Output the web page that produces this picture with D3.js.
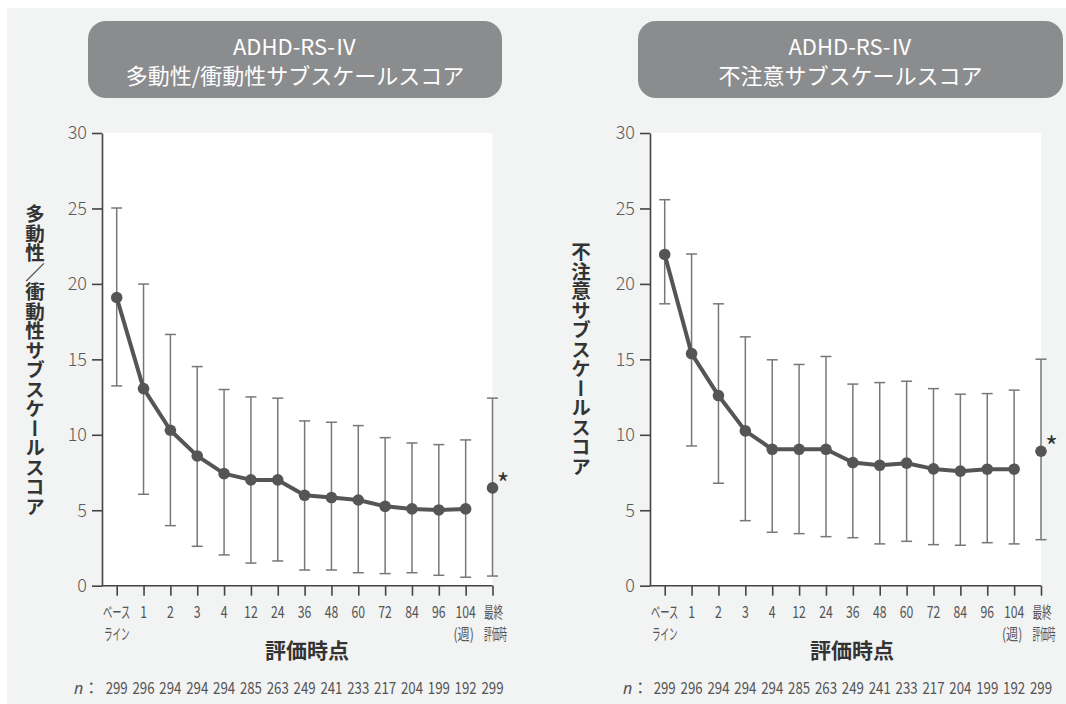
<!DOCTYPE html>
<html>
<head>
<meta charset="utf-8">
<script src="https://cdn.jsdelivr.net/npm/d3@7"></script>
<style>
  html, body { margin: 0; padding: 0; background: #ffffff; }
  svg { display: block; }
  text { font-family: "Noto Sans CJK JP", "Noto Sans", sans-serif; }
</style>
</head>
<body>
<svg id="chart" width="1066" height="704"></svg>
<script>
// Assessment time points (weeks)
const timepoints = ["ベースライン", "1", "2", "3", "4", "12", "24", "36", "48", "60", "72", "84", "96", "104", "最終評価時"];
const nValues = [299, 296, 294, 294, 294, 285, 263, 249, 241, 233, 217, 204, 199, 192, 299];
const yTicks = [0, 5, 10, 15, 20, 25, 30];

// Hyperactivity/impulsivity subscale: mean and ±SD
const hyperMean  = [19.1, 13.06, 10.3, 8.6, 7.43, 7.01, 7.01, 5.99, 5.84, 5.68, 5.26, 5.09, 5.02, 5.09, 6.48];
const hyperUpper = [25.03, 19.99, 16.65, 14.52, 13.0, 12.51, 12.43, 10.92, 10.83, 10.61, 9.81, 9.46, 9.35, 9.66, 12.43];
const hyperLower = [13.24, 6.06, 3.98, 2.61, 2.04, 1.5, 1.64, 1.04, 1.04, 0.86, 0.8, 0.86, 0.69, 0.56, 0.64];

// Inattention subscale: mean and ±SD
const inattMean  = [21.95, 15.38, 12.6, 10.26, 9.04, 9.04, 9.04, 8.16, 7.98, 8.12, 7.74, 7.59, 7.72, 7.72, 8.91];
const inattUpper = [25.58, 21.98, 18.68, 16.49, 14.97, 14.66, 15.19, 13.36, 13.46, 13.55, 13.06, 12.69, 12.73, 12.96, 15.01];
const inattLower = [18.68, 9.26, 6.79, 4.31, 3.54, 3.45, 3.25, 3.18, 2.77, 2.94, 2.72, 2.68, 2.85, 2.77, 3.05];

const svg = d3.select("#chart");

// light grey page panel
svg.append("rect").attr("x", 7).attr("y", 8).attr("width", 1066 - 7).attr("height", 704 - 8).attr("fill", "#f2f3f3");

const AXIS = "#444";
const TEXT = "#555";

// multi-row tick labels: [text, dx, font-size, horizontal squeeze]
const labelRows = {
  "ベースライン": [["ベース", 0, 16, 0.58], ["ライン", 0, 15.5, 0.55]],
  "104": [["104", 0, 17, 0.72], ["(週)", -2, 15.5, 0.78]],
  "最終評価時": [["最終", 1, 16, 0.6], ["評価時", 3, 15.5, 0.5]]
};

function drawPanel(cfg) {
  const g = svg.append("g");

  // title box
  g.append("rect")
    .attr("x", cfg.box[0]).attr("y", 21)
    .attr("width", cfg.box[1] - cfg.box[0]).attr("height", 77)
    .attr("rx", 18).attr("ry", 18)
    .attr("fill", "#8b8c8e");
  const bx = (cfg.box[0] + cfg.box[1]) / 2;
  g.append("text").attr("x", bx).attr("y", 55)
    .attr("text-anchor", "middle").attr("fill", "#fff")
    .attr("font-size", 22).text("ADHD-RS-Ⅳ");
  g.append("text").attr("x", bx).attr("y", 84)
    .attr("text-anchor", "middle").attr("fill", "#fff")
    .attr("font-size", 22).text(cfg.title);

  const x = d3.scalePoint().domain(timepoints).range([cfg.x0 + 14.7, cfg.x1]);
  const y = d3.scaleLinear().domain([0, 30]).range([585.7, 133]);

  // white plotting area
  g.append("rect")
    .attr("x", cfg.x0).attr("y", y(30))
    .attr("width", cfg.x1 - cfg.x0).attr("height", y(0) - y(30))
    .attr("fill", "#fff");

  // y axis
  const ya = g.append("g").attr("transform", `translate(${cfg.x0},0)`)
    .call(d3.axisLeft(y).tickValues(yTicks).tickSize(10).tickPadding(5).tickSizeOuter(0));
  ya.select(".domain").attr("stroke", AXIS).attr("stroke-width", 1.6);
  ya.selectAll(".tick line").attr("stroke", AXIS).attr("stroke-width", 1.6);
  ya.selectAll(".tick text").attr("fill", "#5a5a5a").attr("font-size", 18)
    .attr("font-family", "'Noto Sans', sans-serif").attr("font-weight", 300);

  // x axis
  const xa = g.append("g").attr("transform", `translate(0,${y(0)})`)
    .call(d3.axisBottom(x).tickSize(10).tickSizeOuter(0).tickFormat(""));
  xa.select(".domain").attr("stroke", AXIS).attr("stroke-width", 1.6)
    .attr("d", `M${cfg.x0},0H${cfg.x1}`);
  xa.selectAll(".tick line").attr("stroke", AXIS).attr("stroke-width", 1.6);

  // x tick labels (condensed)
  timepoints.forEach(t => {
    const rows = labelRows[t] || [[t, 0, 17, 0.72]];
    rows.forEach((r, i) => {
      g.append("text")
        .attr("transform", `translate(${x(t) + r[1]},${618 + i * 22}) scale(${r[3]},1)`)
        .attr("text-anchor", "middle").attr("fill", TEXT)
        .attr("font-size", r[2]).text(r[0]);
    });
  });

  // x axis title
  g.append("text").attr("x", cfg.xTitle).attr("y", 658)
    .attr("text-anchor", "middle").attr("fill", "#333")
    .attr("font-size", 21).attr("font-weight", 700).text("評価時点");

  // y axis title (vertical)
  g.append("text").attr("x", cfg.yTitleX).attr("y", cfg.yTitleY)
    .attr("text-anchor", "middle").attr("fill", "#333")
    .attr("font-size", 19.5).attr("font-weight", 700)
    .style("writing-mode", "vertical-rl")
    .text(cfg.yTitle);

  // n row
  g.append("text").attr("x", cfg.nX).attr("y", 694)
    .attr("fill", TEXT).attr("font-size", 16)
    .call(t => {
      t.append("tspan").attr("font-style", "italic").attr("font-family", "'Noto Sans', sans-serif").text("n");
      t.append("tspan").text("：");
    });
  timepoints.forEach((t, i) => {
    g.append("text")
      .attr("transform", `translate(${x(t)},694) scale(0.78,1)`)
      .attr("text-anchor", "middle").attr("fill", TEXT)
      .attr("font-size", 17).text(nValues[i]);
  });

  // error bars
  const eb = g.append("g").attr("stroke", "#777").attr("stroke-width", 1.5).attr("fill", "none");
  timepoints.forEach((t, i) => {
    const cx = x(t);
    eb.append("line").attr("x1", cx).attr("x2", cx).attr("y1", y(cfg.upper[i])).attr("y2", y(cfg.lower[i]));
    eb.append("line").attr("x1", cx - 5.5).attr("x2", cx + 5.5).attr("y1", y(cfg.upper[i])).attr("y2", y(cfg.upper[i]));
    eb.append("line").attr("x1", cx - 5.5).attr("x2", cx + 5.5).attr("y1", y(cfg.lower[i])).attr("y2", y(cfg.lower[i]));
  });

  // connected mean line (weeks only, final assessment shown separately)
  const lineIdx = d3.range(timepoints.length - 1);
  g.append("path")
    .datum(lineIdx)
    .attr("fill", "none").attr("stroke", "#555").attr("stroke-width", 4)
    .attr("stroke-linejoin", "round")
    .attr("d", d3.line().x(i => x(timepoints[i])).y(i => y(cfg.mean[i])));

  g.selectAll(null).data(timepoints).enter().append("circle")
    .attr("cx", d => x(d)).attr("cy", (d, i) => y(cfg.mean[i]))
    .attr("r", 5.8).attr("fill", "#555");

  // asterisk on final assessment
  const last = timepoints[timepoints.length - 1];
  g.append("text")
    .attr("x", x(last) + 10.5).attr("y", y(cfg.mean[cfg.mean.length - 1]) + 6)
    .attr("text-anchor", "middle")
    .attr("fill", "#333").attr("font-size", 27)
    .attr("font-family", "'DejaVu Sans', sans-serif")
    .text("*");
}

drawPanel({
  box: [88, 502], title: "多動性/衝動性サブスケールスコア",
  x0: 102, x1: 492.5,
  mean: hyperMean, upper: hyperUpper, lower: hyperLower,
  yTitle: "多動性／衝動性サブスケールスコア", yTitleX: 35, yTitleY: 360,
  xTitle: 307, nX: 74
});

drawPanel({
  box: [638, 1063], title: "不注意サブスケールスコア",
  x0: 650, x1: 1041,
  mean: inattMean, upper: inattUpper, lower: inattLower,
  yTitle: "不注意サブスケールスコア", yTitleX: 581, yTitleY: 359,
  xTitle: 852, nX: 623
});
</script>
</body>
</html>
